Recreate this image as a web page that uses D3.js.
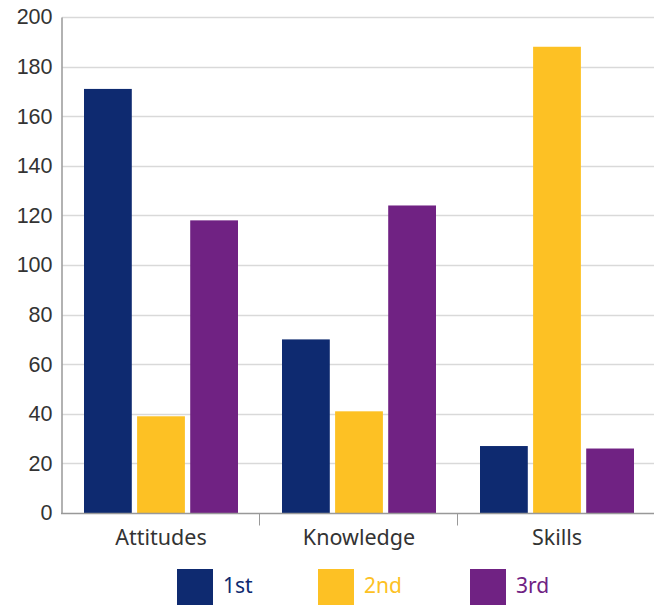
<!DOCTYPE html>
<html>
<head>
<meta charset="utf-8">
<script src="https://cdn.jsdelivr.net/npm/d3@7"></script>
<style>
  html, body { margin: 0; padding: 0; background: #fff; }
  svg { display: block; font-family: "Noto Sans", "Open Sans", sans-serif; }
</style>
</head>
<body>
<svg id="chart" width="654" height="605"></svg>
<script>
// Grouped bars: rank counts per area
const categories = ["Attitudes", "Knowledge", "Skills"];
const seriesNames = ["1st", "2nd", "3rd"];
const firstValues = [171, 70, 27];
const secondValues = [39, 41, 188];
const thirdValues = [118, 124, 26];
const yTicks = [0, 20, 40, 60, 80, 100, 120, 140, 160, 180, 200];
const colors = ["#0e2a70", "#fdc124", "#702283"];

const seriesValues = [firstValues, secondValues, thirdValues];
const rows = categories.map((c, i) => ({
  category: c,
  values: seriesNames.map((s, j) => ({ series: s, value: seriesValues[j][i] }))
}));

const svg = d3.select("#chart");
const margin = { top: 17, right: 0, bottom: 92, left: 62 };
const W = 656, H = 605;
const plotH = H - margin.top - margin.bottom;

const x = d3.scaleBand().domain(categories).range([margin.left, W]).paddingInner(0).paddingOuter(0);
const x1 = d3.scaleBand().domain(seriesNames).range([22, x.bandwidth() - 22]).paddingInner(0.1);
const y = d3.scaleLinear().domain([0, 200]).range([margin.top + plotH, margin.top]);
const color = d3.scaleOrdinal().domain(seriesNames).range(colors);

// horizontal gridlines
svg.append("g")
  .selectAll("line")
  .data(yTicks.filter(t => t > 0))
  .join("line")
  .attr("x1", margin.left).attr("x2", 654)
  .attr("y1", d => Math.round(y(d)) + 0.5).attr("y2", d => Math.round(y(d)) + 0.5)
  .attr("stroke", "#d9d9d9").attr("stroke-width", 1.3);

// bars
const groups = svg.append("g")
  .selectAll("g")
  .data(rows)
  .join("g")
  .attr("transform", d => `translate(${x(d.category)},0)`);

groups.selectAll("rect")
  .data(d => d.values)
  .join("rect")
  .attr("x", d => x1(d.series))
  .attr("width", x1.bandwidth())
  .attr("y", d => y(d.value))
  .attr("height", d => y(0) - y(d.value))
  .attr("fill", d => color(d.series));

// y axis
const yAxis = svg.append("g")
  .attr("transform", `translate(${margin.left - 0.5},0)`)
  .call(d3.axisLeft(y).tickValues(yTicks).tickSize(0).tickPadding(9).tickFormat(d3.format("d")));
yAxis.select(".domain").attr("stroke", "#999").attr("stroke-width", 1.5);
yAxis.selectAll("text")
  .attr("fill", "#333").attr("font-size", "21.5px");

// x axis
const xAxis = svg.append("g")
  .attr("transform", `translate(0,${y(0) + 0.5})`);
xAxis.append("line")
  .attr("x1", margin.left - 1).attr("x2", 654)
  .attr("stroke", "#999").attr("stroke-width", 1.5);
xAxis.selectAll("line.sep")
  .data(categories.slice(1))
  .join("line")
  .attr("class", "sep")
  .attr("x1", d => x(d) - 0.5).attr("x2", d => x(d) - 0.5)
  .attr("y1", 0).attr("y2", 12)
  .attr("stroke", "#999").attr("stroke-width", 1);
xAxis.selectAll("text")
  .data(categories)
  .join("text")
  .attr("x", d => x(d) + x.bandwidth() / 2)
  .attr("y", 31)
  .attr("text-anchor", "middle")
  .attr("fill", "#333")
  .attr("font-size", "21.5px")
  .text(d => d);

// legend
const legendX = [177, 318, 470];
const legend = svg.append("g")
  .selectAll("g")
  .data(seriesNames)
  .join("g")
  .attr("transform", (d, i) => `translate(${legendX[i]},569)`);
legend.append("rect")
  .attr("width", 36).attr("height", 36)
  .attr("fill", d => color(d));
legend.append("text")
  .attr("x", 46).attr("y", 24)
  .attr("fill", d => color(d))
  .attr("font-size", "21px")
  .text(d => d);
</script>
</body>
</html>
